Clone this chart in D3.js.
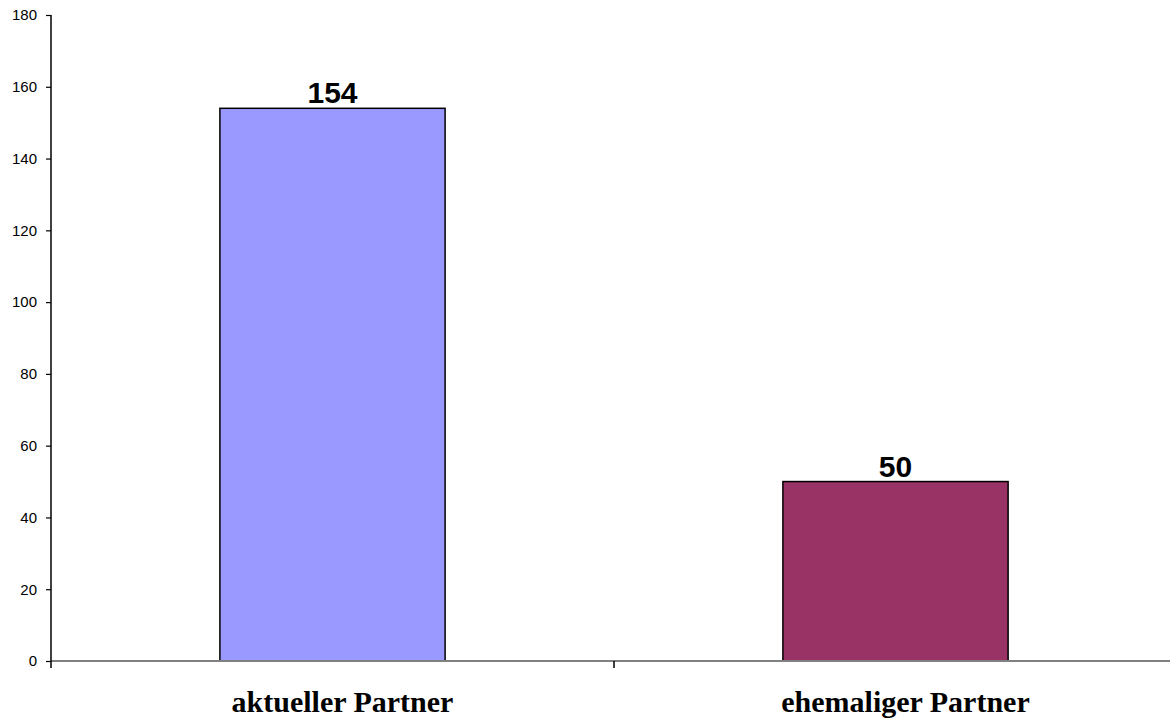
<!DOCTYPE html>
<html>
<head>
<meta charset="utf-8">
<script src="https://cdn.jsdelivr.net/npm/d3@7"></script>
<style>
  html, body { margin: 0; padding: 0; background: #fff; }
  svg { display: block; }
</style>
</head>
<body>
<svg id="chart" width="1171" height="718"></svg>
<script>
// Partner counts
const categories = ["aktueller Partner", "ehemaliger Partner"];
const values = [154, 50];
const barColors = ["#9999FF", "#993366"];
const yTicks = [0, 20, 40, 60, 80, 100, 120, 140, 160, 180];

const svg = d3.select("#chart");
const width = 1171, height = 718;
const x0 = 51, xAxisEnd = 1170, xRangeEnd = 1177;
const yBottom = 661, yTop = 15;

const x = d3.scaleBand()
  .domain(categories)
  .range([x0, xRangeEnd])
  .paddingInner(0.6)
  .paddingOuter(0.3);

const xOuter = d3.scaleBand().domain(categories).range([x0, xRangeEnd]).padding(0);

const y = d3.scaleLinear().domain([0, 180]).range([yBottom, yTop]);

// bars
svg.append("g").selectAll("rect")
  .data(values)
  .join("rect")
  .attr("x", (d, i) => x(categories[i]))
  .attr("y", d => y(d))
  .attr("width", x.bandwidth())
  .attr("height", d => y(0) - y(d))
  .attr("fill", (d, i) => barColors[i])
  .attr("stroke", "#000")
  .attr("stroke-width", 1.5);

// horizontal axis line
svg.append("line")
  .attr("x1", x0).attr("x2", xAxisEnd)
  .attr("y1", y(0)).attr("y2", y(0))
  .attr("stroke", "#808080").attr("stroke-width", 2);

// category divider ticks
const boundaries = categories.slice(1).map(c => xOuter(c));
svg.append("g").selectAll("line")
  .data(boundaries)
  .join("line")
  .attr("x1", d => d).attr("x2", d => d)
  .attr("y1", y(0)).attr("y2", y(0) + 7)
  .attr("stroke", "#000").attr("stroke-width", 1.5);

// vertical axis
const yAxis = d3.axisLeft(y).tickValues(yTicks).tickSize(5).tickPadding(9);
const gy = svg.append("g")
  .attr("transform", `translate(${x0},0)`)
  .call(yAxis);
gy.select(".domain").remove();
gy.selectAll(".tick line").attr("stroke", "#000").attr("stroke-width", 1.2);
gy.selectAll(".tick text")
  .attr("font-family", "Liberation Sans, Arial, sans-serif")
  .attr("font-size", 15)
  .attr("fill", "#000");
svg.append("line")
  .attr("x1", x0).attr("x2", x0)
  .attr("y1", yTop).attr("y2", y(0) + 7)
  .attr("stroke", "#000").attr("stroke-width", 1.5);

// value labels
svg.append("g").selectAll("text")
  .data(values)
  .join("text")
  .attr("x", (d, i) => x(categories[i]) + x.bandwidth() / 2)
  .attr("y", d => y(d) - 5)
  .attr("text-anchor", "middle")
  .attr("font-family", "Liberation Sans, Arial, sans-serif")
  .attr("font-weight", "bold")
  .attr("font-size", 30)
  .attr("fill", "#000")
  .text(d => d);

// category labels
svg.append("g").selectAll("text")
  .data(categories)
  .join("text")
  .attr("x", d => x(d) + x.bandwidth() / 2 + 10)
  .attr("y", 712)
  .attr("text-anchor", "middle")
  .attr("font-family", "Liberation Serif, Times New Roman, serif")
  .attr("font-weight", "bold")
  .attr("font-size", 30)
  .attr("fill", "#000")
  .text(d => d);
</script>
</body>
</html>
